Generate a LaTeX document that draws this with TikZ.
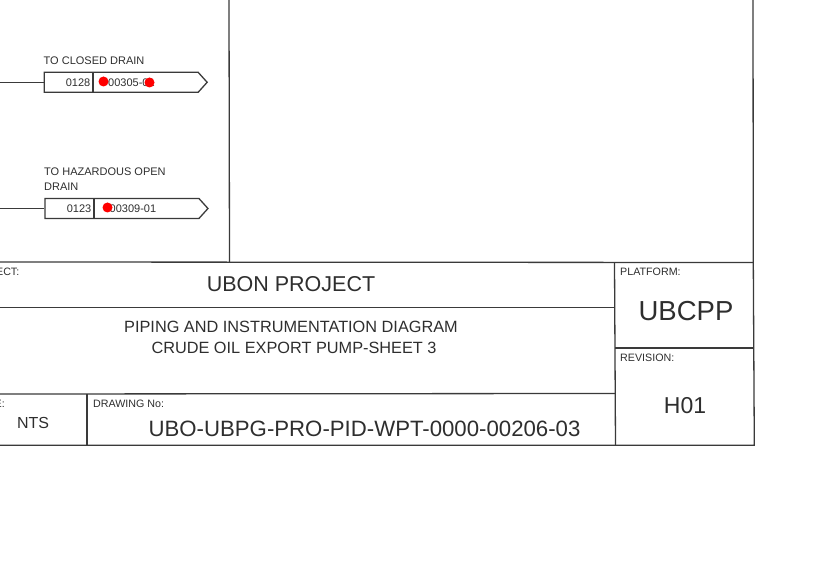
\documentclass[tikz,border=0pt]{standalone}
\usepackage{fontspec}
\setmainfont{Liberation Sans}
\usetikzlibrary{shapes.symbols}
\definecolor{inkline}{HTML}{3A3A3A}
\definecolor{inktext}{HTML}{2E2E2E}
\newcommand{\fs}[1]{\fontsize{#1}{#1}\selectfont}
\tikzset{
  frameline/.style={draw=inkline,line width=1.3pt},
  tagline/.style={draw=inkline,line width=1.3pt},
  tagbox/.style={tagline,signal,signal to=east,signal pointer angle=96,
    minimum width=163pt,minimum height=20pt,inner sep=0pt,anchor=west},
  tagtext/.style={text=inktext,font=\fs{11},inner sep=0pt},
  droplabel/.style={text=inktext,font=\fs{11},inner sep=0pt,anchor=base west,align=left},
  smalllabel/.style={text=inktext,font=\fs{10.7},inner sep=0pt,anchor=base west},
  reddot/.style={circle,fill=red,inner sep=0pt,minimum size=10pt},
}
\begin{document}
\begin{tikzpicture}[x=1pt,y=-1pt]
  \useasboundingbox (0,0) rectangle (827,585);
  % outer lines of the sheet
  \draw[frameline] (229,0) -- (229.5,262.5);
  \draw[frameline] (753,0) -- (753.3,262.5) -- (754.3,445.3) -- (0,445.3);
  \draw[frameline] (0,262) -- (753.3,262.5);
  % title block
  \draw[frameline] (614.5,262.5) -- (615.5,445.3);
  \draw[frameline] (0,307.5) -- (614.7,307.5);
  \draw[frameline] (615,348) -- (753.8,348);
  \draw[frameline] (0,394) -- (615.2,393.5);
  \draw[frameline] (87,394) -- (87,445.3);
  % off sheet tags
  \coordinate (pipeA) at (0,82.3);
  \coordinate (pipeB) at (0,208.5);
  \node[tagbox] (tagA) at (43.5,82.3) {};
  \node[tagbox] (tagB) at (44.3,208.5) {};
  \draw[tagline] (pipeA) -- (tagA.west);
  \draw[tagline] (pipeB) -- (tagB.west);
  \draw[tagline] (93,72.3) -- (93,92.3);
  \draw[tagline] (94,198.5) -- (94,218.5);
  \node[droplabel] (dropA) at (43.5,64.5) {TO CLOSED DRAIN};
  \node[droplabel] (dropB) at (44,175.5) {TO HAZARDOUS OPEN};
  \node[droplabel] (dropC) at (44,190.5) {DRAIN};
  \node[tagtext,anchor=east] (sheetA) at (90.5,82.3) {0128};
  \node[tagtext,anchor=west] (numA) at (108,82.3) {00305-01};
  \node[tagtext,anchor=east] (sheetB) at (91.5,208.5) {0123};
  \node[tagtext,anchor=west] (numB) at (109.5,208.5) {00309-01};
  \node[reddot] (dotA) at (103.5,81.5) {};
  \node[reddot] (dotB) at (149.5,82.5) {};
  \node[reddot] (dotC) at (107.5,207.5) {};
  % title block texts
  \node[smalllabel,anchor=base east] (projlab) at (19.5,275.5) {ECT:};
  \node[text=inktext,font=\fs{21.5},inner sep=0pt] (project) at (291,284) {UBON PROJECT};
  \node[text=inktext,font=\fs{16.3},inner sep=0pt] (titleA) at (291,327) {PIPING AND INSTRUMENTATION DIAGRAM};
  \node[text=inktext,font=\fs{16.3},inner sep=0pt] (titleB) at (294,347.5) {CRUDE OIL EXPORT PUMP-SHEET 3};
  \node[smalllabel,anchor=base east] (scalelab) at (5,407.5) {E:};
  \node[text=inktext,font=\fs{16},inner sep=0pt] (scale) at (33,422.5) {NTS};
  \node[smalllabel] (drawlab) at (93,407.5) {DRAWING No:};
  \node[text=inktext,font=\fs{22.2},inner sep=0pt] (drawing) at (364.5,429) {UBO-UBPG-PRO-PID-WPT-0000-00206-03};
  \node[smalllabel] (platlab) at (620,275.5) {PLATFORM:};
  \node[text=inktext,font=\fs{27.5},inner sep=0pt] (platform) at (686,311.5) {UBCPP};
  \node[smalllabel] (revlab) at (620,361.5) {REVISION:};
  \node[text=inktext,font=\fs{23},inner sep=0pt] (revision) at (685,405.5) {H01};
\end{tikzpicture}
\end{document}
